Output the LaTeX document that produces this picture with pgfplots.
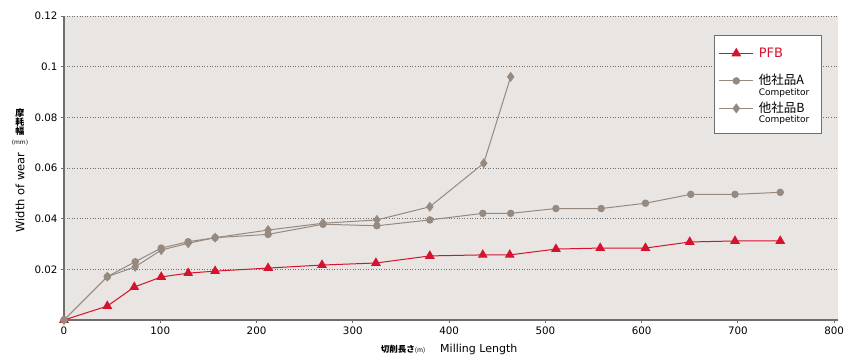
\documentclass[border=0pt]{standalone}
\usepackage{fontspec}
\setmainfont{DejaVu Sans}
\newfontfamily\cjk{Noto Sans CJK JP}
\usepackage{pgfplots}
\pgfplotsset{compat=1.18}
\definecolor{pfbred}{HTML}{D5132E}
\definecolor{compgray}{HTML}{968980}
\definecolor{bggray}{HTML}{E8E5E2}
\definecolor{axgray}{HTML}{6E6E6E}
\definecolor{gridgray}{HTML}{707070}
\newcommand\legA[2]{\raisebox{0pt}[11pt][#2]{\vtop{\baselineskip=10.5pt\hbox{\fontsize{12.5}{13}\cjk #1}\hbox{\fontsize{9}{10}\selectfont Competitor\hspace{8pt}}}}}
\begin{document}
\begin{tikzpicture}
\path (-64pt,-37pt) rectangle (786pt,320pt);
\begin{axis}[
  at={(0,0)}, anchor=south west,
  scale only axis, width=774pt, height=304pt,
  xmin=0, xmax=804, ymin=0, ymax=0.12,
  axis x line*=bottom, axis y line*=left,
  axis line style={-, axgray, line width=1.5pt},
  axis background/.style={fill=bggray},
  xtick={0,100,...,800},
  ytick={0.02,0.04,0.06,0.08,0.1,0.12},
  yticklabels={0.02,0.04,0.06,0.08,0.1,0.12},
  ymajorgrids,
  grid style={gridgray, line width=0.9pt, dash pattern=on 1pt off 1.6pt},
  tick align=outside, major tick length=3pt,
  tick style={axgray, line width=0.8pt},
  ticklabel style={font=\fontsize{10.3}{12}\selectfont, text=black},
  /pgf/number format/assume math mode=true,
  xlabel={{\fontsize{8.5}{10}\cjk\bfseries 切削長さ}{\fontsize{6.5}{8}\cjk (m)}\hspace{15pt}Milling Length},
  xlabel style={at={(axis description cs:0.4975,0)}, anchor=center, yshift=-29pt, inner sep=0pt, font=\fontsize{11}{13}\selectfont},
  legend style={at={(0.979,0.9375)}, anchor=north east, draw=axgray, fill=white, line width=0.8pt,
    inner xsep=4pt, inner ysep=11pt, row sep=0pt, column sep=5pt, font=\fontsize{12.5}{13}\selectfont,
    nodes={inner sep=0pt, text depth=}, cells={anchor=base west}},
  legend image code/.code={\draw[mark repeat=2,mark phase=2,yshift=4pt,#1] plot coordinates {(0pt,0pt) (17pt,0pt) (34pt,0pt)};},
  clip=false,
]
\addplot[pfbred, line width=1pt, mark=triangle*, mark size=4.7pt, mark options={solid, fill=pfbred}] coordinates {
 (0,0) (45,0.0055) (73,0.0130) (101,0.0170) (129,0.0185) (157,0.0193) (212,0.0205) (268,0.0217) (324,0.0225)
 (380,0.0253) (435,0.0257) (463,0.0257) (511,0.0280) (557,0.0284) (604,0.0284) (650,0.0308) (697,0.0312) (744,0.0312)
};
\addlegendentry{\raisebox{0pt}[11pt][16.5pt]{\fontsize{13}{14}\selectfont\textcolor{pfbred}{PFB}}}
\addplot[compgray, line width=1pt, mark=*, mark size=3.2pt, mark options={solid, fill=compgray}] coordinates {
 (0,0) (45,0.0171) (74,0.0230) (101,0.0284) (129,0.0309) (157,0.0325) (212,0.0338) (269,0.0378) (325,0.0372)
 (380,0.0395) (435,0.0421) (464,0.0421) (511,0.0440) (558,0.0440) (604,0.0461) (651,0.0496) (697,0.0496) (744,0.0504)
};
\addlegendentry{\legA{他社品A}{16.5pt}}
\addplot[compgray, line width=1pt, mark=diamond*, mark size=4.2pt, mark options={solid, fill=compgray}] coordinates {
 (0,0) (45,0.0171) (74,0.0210) (101,0.0276) (129,0.0303) (157,0.0325) (212,0.0355) (269,0.0382) (325,0.0395)
 (380,0.0447) (436,0.0619) (464,0.0960)
};
\addlegendentry{\legA{他社品B}{10pt}}
\end{axis}
\node[inner sep=0pt] at (-44pt,207pt) {\fontsize{9}{10}\cjk\bfseries 摩};
\node[inner sep=0pt] at (-44pt,198pt) {\fontsize{9}{10}\cjk\bfseries 耗};
\node[inner sep=0pt] at (-44pt,189pt) {\fontsize{9}{10}\cjk\bfseries 幅};
\node[inner sep=0pt] at (-44pt,177.5pt) {\fontsize{6}{7}\selectfont (mm)};
\node[font=\fontsize{11.5}{13}\selectfont, rotate=90, inner sep=0pt] at (-44pt,127.5pt) {Width of wear};
\end{tikzpicture}
\end{document}
